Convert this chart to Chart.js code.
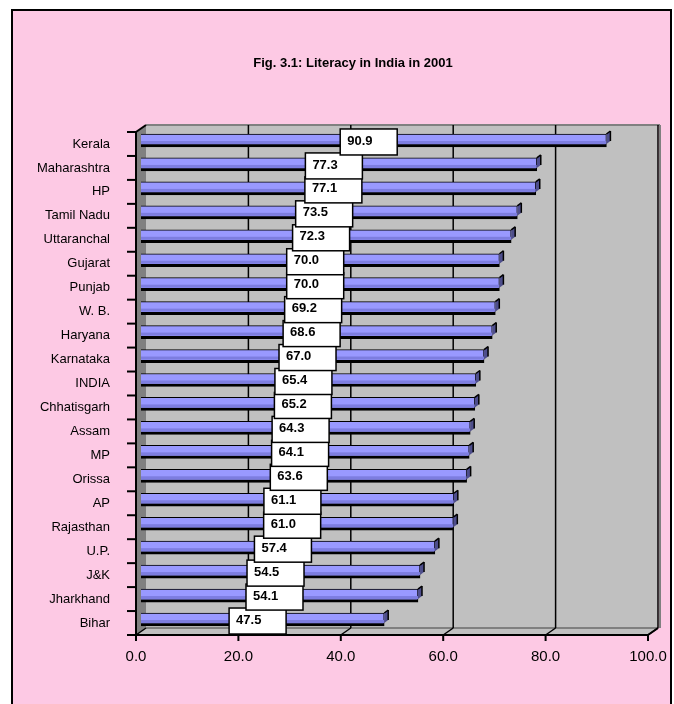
<!DOCTYPE html>
<html>
<head>
<meta charset="utf-8">
<title>Literacy in India in 2001</title>
<script src="https://cdn.jsdelivr.net/npm/chart.js@4.4.1/dist/chart.umd.min.js"></script>
<style>
  html,body{margin:0;padding:0;background:#fff;}
  #panel{position:absolute;left:11px;top:9px;width:657px;height:700px;background:#fdc9e4;border:2px solid #000;border-bottom:none;}
  #wrap{position:absolute;left:0;top:0;width:674px;height:704px;}
</style>
</head>
<body>
<div id="panel"></div>
<div id="wrap"><canvas id="literacyChart" width="674" height="704"></canvas></div>
<script>
/* ── DATA ─────────────────────────────────────────────── */
const states = ['Kerala','Maharashtra','HP','Tamil Nadu','Uttaranchal','Gujarat','Punjab','W. B.',
                'Haryana','Karnataka','INDIA','Chhatisgarh','Assam','MP','Orissa','AP','Rajasthan',
                'U.P.','J&K','Jharkhand','Bihar'];
const literacy = [90.9,77.3,77.1,73.5,72.3,70.0,70.0,69.2,68.6,67.0,65.4,65.2,64.3,64.1,63.6,61.1,61.0,
                  57.4,54.5,54.1,47.5];
const xTickLabels = ['0.0','20.0','40.0','60.0','80.0','100.0'];
const TITLE = 'Fig. 3.1: Literacy in India in 2001';

/* ── 3-D BOX LOOK ─────────────────────────────────────── */
const DX = 5, DY = 3.5;   // half depth of the box
const FONT = "'Liberation Sans', Arial, sans-serif";

function poly(ctx, pts, fill){
  ctx.beginPath();
  pts.forEach((p,i)=> i ? ctx.lineTo(p[0],p[1]) : ctx.moveTo(p[0],p[1]));
  ctx.closePath();
  ctx.fillStyle = fill;
  ctx.fill();
}
function seg(ctx, x1, y1, x2, y2){
  ctx.beginPath(); ctx.moveTo(x1,y1); ctx.lineTo(x2,y2); ctx.stroke();
}

const boxFrame = {
  id:'boxFrame',
  beforeDatasetsDraw(chart){
    const {ctx, chartArea:a, scales:{x}} = chart;
    const bl=a.left+DX, bt=a.top-DY, br=a.right+DX, bb=a.bottom-DY;
    const fl=a.left-DX, ft=a.top+DY, fr=a.right-DX, fb=a.bottom+DY;
    ctx.save();

    /* walls and floor */
    ctx.fillStyle = '#c0c0c0';
    ctx.fillRect(bl, bt, br-bl, bb-bt);
    poly(ctx, [[fl,ft],[bl,bt],[bl,bb],[fl,fb]], '#808080');
    poly(ctx, [[fl,fb],[bl,bb],[br,bb],[fr,fb]], '#c0c0c0');

    ctx.strokeStyle = '#808080'; ctx.lineWidth = 2;
    seg(ctx, bl, bt, br+2, bt);
    seg(ctx, br+2, bt, br+2, bb);
    seg(ctx, bl, bb, br, bb);

    /* gridlines on the back wall + floor */
    ctx.strokeStyle = '#000'; ctx.lineWidth = 1.5;
    x.ticks.forEach(t=>{
      const px = x.getPixelForValue(t.value) + DX;
      if(t.value > 0) seg(ctx, px, bt, px, bb);
      seg(ctx, px-2*DX, fb, px, bb);
    });

    /* front axes */
    ctx.lineWidth = 2;
    seg(ctx, fl, ft, fl, fb+1);
    seg(ctx, fl, ft, bl, bt);
    seg(ctx, fl-1, fb, fr, fb);
    seg(ctx, fr, fb, br, bb);
    const n = states.length, band = (fb-ft)/n;
    for(let i=0;i<=n;i++){
      const yb = ft + i*band;
      seg(ctx, fl-9, yb, fl, yb);
    }
    x.ticks.forEach(t=>{
      const px = x.getPixelForValue(t.value) - DX;
      seg(ctx, px, fb, px, fb+6);
    });
    ctx.restore();
  },

  afterDatasetsDraw(chart){
    const {ctx} = chart;
    const bars = chart.getDatasetMeta(0).data;
    ctx.save();

    /* shading + end caps of the bars */
    bars.forEach(bar=>{
      const {x, y, base, height} = bar.getProps(['x','y','base','height'], true);
      const top = y - height/2, bot = y + height/2;
      ctx.fillStyle = '#7d7de0';
      ctx.fillRect(base, bot-6, x-base, 3);
      poly(ctx, [[x,top],[x+4,top-3],[x+4,bot-6],[x,bot-3]], '#4e4e8c');
      ctx.strokeStyle = '#000'; ctx.lineWidth = 1.5;
      seg(ctx, x, top, x+4, top-3);
      seg(ctx, x+4, top-3, x+4, bot-6);
    });

    /* value boxes, drawn bottom-up so upper ones overlap */
    ctx.font = 'bold 13px ' + FONT;
    ctx.textBaseline = 'middle';
    ctx.textAlign = 'left';
    for(let i=bars.length-1;i>=0;i--){
      const {x, y, base} = bars[i].getProps(['x','y','base'], true);
      const cx = (base + x)/2 - DX, cy = y + 1.5;
      const w = 57, h = 26;
      ctx.fillStyle = '#fff';
      ctx.fillRect(cx-w/2, cy-h/2, w, h);
      ctx.strokeStyle = '#000'; ctx.lineWidth = 1.5;
      ctx.strokeRect(cx-w/2, cy-h/2, w, h);
      ctx.fillStyle = '#000';
      ctx.fillText(literacy[i].toFixed(1), cx-w/2+7, cy-1);
    }
    ctx.restore();
  },

  afterDraw(chart){
    const {ctx} = chart;
    ctx.save();
    ctx.font = 'bold 13px ' + FONT;
    ctx.fillStyle = '#000';
    ctx.textAlign = 'center';
    ctx.textBaseline = 'middle';
    ctx.fillText(TITLE, 353, 63);
    ctx.restore();
  }
};

/* ── CHART ────────────────────────────────────────────── */
Chart.defaults.font.family = FONT;

new Chart(document.getElementById('literacyChart'), {
  type:'bar',
  data:{
    labels: states,
    datasets:[{
      data: literacy,
      backgroundColor:'#9999ff',
      borderColor:'#000',
      borderWidth:{top:1,right:1,bottom:3,left:0},
      borderSkipped:false,
      barThickness:13
    }]
  },
  options:{
    indexAxis:'y',
    responsive:false,
    animation:false,
    layout:{padding:{left:0,right:21,top:128.5,bottom:0}},
    plugins:{
      legend:{display:false},
      tooltip:{enabled:false}
    },
    scales:{
      x:{
        min:0, max:100,
        grid:{display:false, drawTicks:false},
        border:{display:false},
        ticks:{stepSize:20, color:'#000', font:{size:15}, padding:16, labelOffset:-DX, maxRotation:0,
               callback:(v,i)=>xTickLabels[i]},
        afterFit(s){ s.height = 72.5; s.paddingLeft = 0; s.paddingRight = 0; }
      },
      y:{
        grid:{display:false, drawTicks:false},
        border:{display:false},
        ticks:{color:'#000', font:{size:13}, padding:31, labelOffset:DY, autoSkip:false},
        afterFit(s){ s.width = 141; s.paddingTop = 0; s.paddingBottom = 0; }
      }
    }
  },
  plugins:[boxFrame]
});
</script>
</body>
</html>
